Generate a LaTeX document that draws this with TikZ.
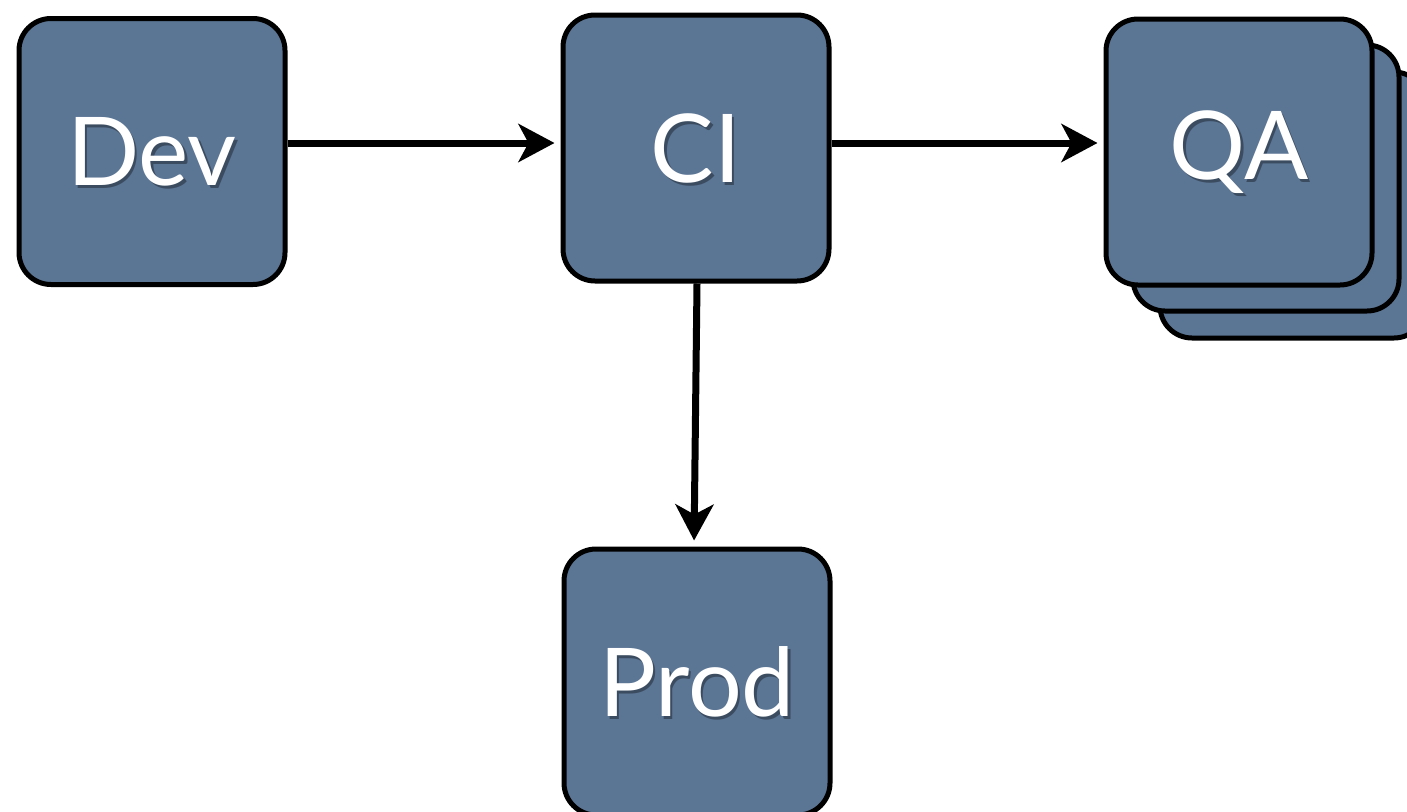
\documentclass[tikz,border=0pt]{standalone}
\usepackage{fontspec}
\setmainfont{Lato}
\usetikzlibrary{arrows.meta}
\definecolor{boxblue}{RGB}{91,117,148}
\tikzset{
  card/.style={draw=black, line width=5pt, fill=boxblue, rounded corners=32pt,
    minimum width=266pt, minimum height=266pt, inner sep=0pt},
  lbl/.style={text=white, font=\fontsize{95}{100}\selectfont, inner sep=0pt},
  lblshadow/.style={text=black, opacity=0.35, font=\fontsize{95}{100}\selectfont, inner sep=0pt},
  flow/.style={line width=7pt, -{Stealth[length=36pt,width=38pt,inset=10pt]}, shorten >=6pt},
}
\begin{document}
\begin{tikzpicture}[x=1pt,y=-1pt]
\useasboundingbox[fill=white] (0,0) rectangle (1407,811);
% boxes
\node[card] (dev) at (152,151.5) {};
\node[card] (ci) at (696,148) {};
\node[card] (qa3) at (1293,205) {};
\node[card] (qa2) at (1266,178) {};
\node[card] (qa) at (1239,152) {};
\node[card] (prod) at (697,682) {};
% labels with soft drop shadow
\foreach \n/\t in {dev/Dev, ci/CI, qa/QA, prod/Prod}{
  \node[lblshadow] (\n-sh) at ([shift={(2.5,3)}]\n.center) {\t};
  \node[lbl] (\n-t) at (\n.center) {\t};
}
% connectors
\draw[flow] (dev.east |- 0,143) -- (ci.west |- 0,143);
\draw[flow] (ci.east |- 0,143) -- (qa.west |- 0,143);
\draw[flow] ([xshift=1pt]ci.south) -- ([xshift=-3pt]prod.north);
\end{tikzpicture}
\end{document}
